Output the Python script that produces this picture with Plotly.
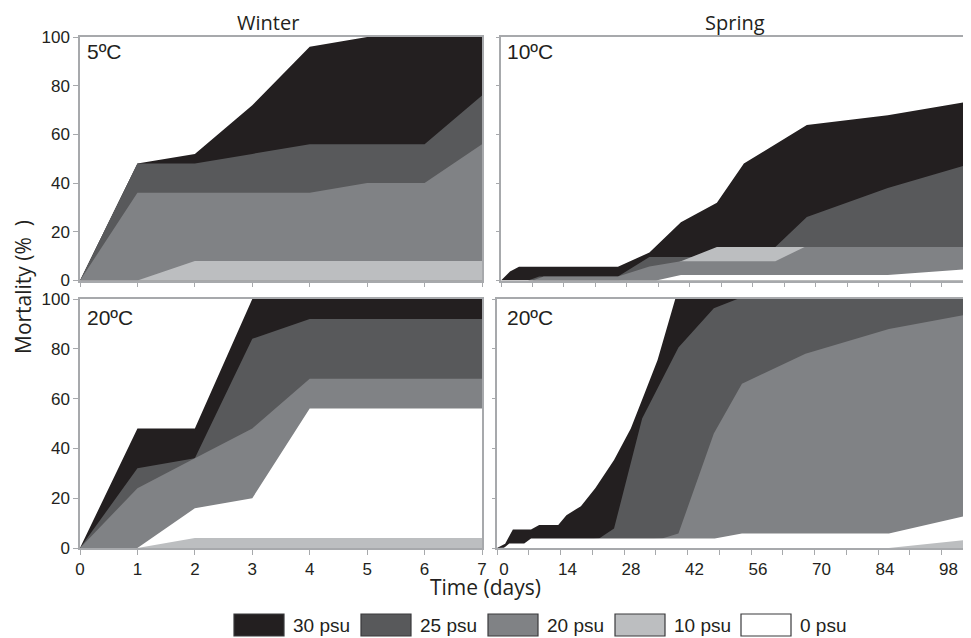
import plotly.graph_objects as go

# ---------------- data ----------------
series_names = ["30 psu", "25 psu", "20 psu", "10 psu", "0 psu"]
series_colors = ["#231f20", "#58595b", "#808285", "#bcbec0", "#ffffff"]

# Winter, 5 ºC (days 0-7)
winter_days = [0, 1, 2, 3, 4, 5, 6, 7]
w5_30 = [0, 48, 52, 72, 96, 100, 100, 100]
w5_25 = [0, 48, 48, 52, 56, 56, 56, 76]
w5_20 = [0, 36, 36, 36, 36, 40, 40, 56]
w5_10 = [0, 0, 8, 8, 8, 8, 8, 8]
w5_0 = [0, 0, 0, 0, 0, 0, 0, 0]

# Winter, 20 ºC
w20_30 = [0, 48, 48, 100, 100, 100, 100, 100]
w20_25 = [0, 32, 36, 84, 92, 92, 92, 92]
w20_20 = [0, 24, 36, 48, 68, 68, 68, 68]
w20_10 = [0, 0, 4, 4, 4, 4, 4, 4]
w20_0 = [0, 0, 16, 20, 56, 56, 56, 56]

# Spring, 10 ºC
s10_30_x = [0, 2, 4, 26, 33, 40, 48, 54, 68, 86, 105]
s10_30_y = [0, 3.7, 5.6, 5.6, 11.5, 23.9, 31.9, 48, 63.9, 67.9, 73.8]
s10_25_x = [0, 6, 8.5, 26, 33, 43, 54, 61, 68, 86, 105]
s10_25_y = [0, 0, 1.6, 1.6, 9.7, 9.7, 9.7, 13.8, 26.1, 38, 48.2]
s10_20_x = [0, 7, 9.5, 26, 33, 40, 61, 67.5, 105]
s10_20_y = [0, 0, 1.6, 1.6, 5.8, 7.9, 7.9, 13.8, 13.8]
s10_10_x = [0, 26, 33, 40, 48, 105]
s10_10_y = [0, 0, 2, 7.9, 13.8, 13.8]
s10_0_x = [0, 34.5, 40, 86, 105]
s10_0_y = [0, 0, 2.3, 2.3, 4.8]

# Spring, 20 ºC
s20_30_x = [0, 1.8, 3.5, 7.5, 9.3, 13.5, 15.3, 18.5, 21.7, 25.8, 29.5, 32.4, 35.4, 39.3, 105]
s20_30_y = [0, 1.7, 7.4, 7.4, 9.2, 9.2, 13.2, 16.8, 24.1, 35.3, 48, 61.4, 75.5, 100, 100]
s20_25_x = [0, 22.5, 25.8, 32, 40, 47.8, 53, 105]
s20_25_y = [0, 3.8, 7.8, 52, 80.5, 96.3, 100, 100]
s20_20_x = [0, 36.4, 40, 47.8, 54, 68, 86.4, 105]
s20_20_y = [0, 3.8, 5.8, 46, 66, 78, 88, 94.2]
s20_10_x = [0, 86.4, 105]
s20_10_y = [0, 0, 3.5]
s20_0_x = [0, 1.5, 2.7, 6, 7.5, 48, 54, 86.4, 105]
s20_0_y = [0, 0, 1.8, 1.8, 3.8, 3.8, 5.8, 5.8, 13.6]

winter_ticks = [0, 1, 2, 3, 4, 5, 6, 7]
spring_ticks = [0, 14, 28, 42, 56, 70, 84, 98]
spring_minor = [7, 21, 35, 49, 63, 77, 91]
y_ticks = [0, 20, 40, 60, 80, 100]

column_titles = ["Winter", "Spring"]
panel_labels = ["5ºC", "10ºC", "20ºC", "20ºC"]
x_title = "Time (days)"
y_title = "Mortality (%\u00a0\u00a0)"

# ---------------- figure ----------------
# the page body has an 8 px margin, so the figure is offset by 8 px
OFF = 8
W, H = 971 - OFF, 638 - OFF
def fx(p):
    return (p - OFF) / W
def fy(p):
    return 1 - (p - OFF) / H

color_of = dict(zip(series_names, series_colors))

# (axis suffix, [(name, x, y), ...] in drawing order back -> front)
panels = [
    ("", [("30 psu", winter_days, w5_30), ("25 psu", winter_days, w5_25),
          ("20 psu", winter_days, w5_20), ("0 psu", winter_days, w5_0),
          ("10 psu", winter_days, w5_10)]),
    ("2", [("30 psu", s10_30_x, s10_30_y), ("25 psu", s10_25_x, s10_25_y),
           ("10 psu", s10_10_x, s10_10_y), ("20 psu", s10_20_x, s10_20_y),
           ("0 psu", s10_0_x, s10_0_y)]),
    ("3", [("30 psu", winter_days, w20_30), ("25 psu", winter_days, w20_25),
           ("20 psu", winter_days, w20_20), ("0 psu", winter_days, w20_0),
           ("10 psu", winter_days, w20_10)]),
    ("4", [("30 psu", s20_30_x, s20_30_y), ("25 psu", s20_25_x, s20_25_y),
           ("20 psu", s20_20_x, s20_20_y), ("0 psu", s20_0_x, s20_0_y),
           ("10 psu", s20_10_x, s20_10_y)]),
]

fig = go.Figure()
for suffix, traces in panels:
    for name, xs, ys in traces:
        fig.add_trace(go.Scatter(
            x=xs, y=ys, name=name, mode="none", fill="tozeroy",
            fillcolor=color_of[name], showlegend=False, hoverinfo="skip",
            xaxis="x" + suffix, yaxis="y" + suffix))

AX = "#a7a9ac"
TICKFONT = dict(family="Liberation Sans, Arial", size=17, color="#231f20")


def axis(**kw):
    base = dict(showline=True, linecolor=AX, linewidth=1.5, ticks="outside",
                ticklen=5, tickwidth=1.2, tickcolor=AX, showgrid=False,
                zeroline=False, tickfont=TICKFONT, fixedrange=True,
                automargin=False)
    base.update(kw)
    return base

minor_spring = dict(tickvals=spring_minor, ticks="outside", ticklen=5,
                    tickcolor=AX, tickwidth=1.2, showgrid=False)

top_dom = [fy(280.5), fy(37)]
bot_dom = [fy(548), fy(299)]

fig.update_layout(
    width=W, height=H, margin=dict(l=0, r=0, t=0, b=0, pad=0), autosize=False,
    paper_bgcolor="white", plot_bgcolor="white", showlegend=False,
    xaxis=axis(domain=[fx(80), fx(482)], range=[0, 7], tickvals=winter_ticks,
               showticklabels=False, mirror=True, anchor="y"),
    yaxis=axis(domain=top_dom, range=[0, 100], tickvals=y_ticks,
               mirror=True, anchor="x"),
    xaxis2=axis(domain=[fx(501), 1.0], range=[0, 104.5], tickvals=spring_ticks,
                minor=minor_spring, showticklabels=False, mirror=True, anchor="y2"),
    yaxis2=axis(domain=top_dom, range=[0, 100], tickvals=y_ticks, ticklen=3,
                showticklabels=False, mirror=False, anchor="x2"),
    xaxis3=axis(domain=[fx(80), fx(482)], range=[0, 7], tickvals=winter_ticks,
                mirror=True, anchor="y3"),
    yaxis3=axis(domain=bot_dom, range=[0, 100], tickvals=y_ticks,
                mirror=True, anchor="x3"),
    xaxis4=axis(domain=[fx(497), 1.0], range=[0, 104.5], tickvals=spring_ticks,
                minor=minor_spring, mirror=True, anchor="y4", ticklabelshift=7),
    yaxis4=axis(domain=bot_dom, range=[0, 100], tickvals=y_ticks, ticklen=3,
                showticklabels=False, mirror=False, anchor="x4"),
)

HEADFONT = dict(family="Open Sans, Noto Sans", size=20, color="#231f20")
TITLEFONT = dict(family="Open Sans, Noto Sans", size=21, color="#231f20")
ann = []
ann.append(dict(text=column_titles[0], x=fx(268), y=1.0, xref="paper", yref="paper",
                showarrow=False, font=HEADFONT, xanchor="center", yanchor="top",
                borderpad=0))
ann.append(dict(text=column_titles[1], x=fx(735), y=1.0, xref="paper", yref="paper",
                showarrow=False, font=HEADFONT, xanchor="center", yanchor="top",
                borderpad=0))
ann.append(dict(text=x_title, x=fx(485), y=fy(587), xref="paper", yref="paper",
                showarrow=False, font=TITLEFONT, xanchor="center", yanchor="middle"))
ann.append(dict(text=y_title, x=0.0, y=fy(287), xref="paper", yref="paper",
                showarrow=False, font=TITLEFONT, textangle=-90, borderpad=0,
                xanchor="left", yanchor="middle"))

LABELFONT = dict(family="Liberation Sans, Arial", size=21, color="#231f20")
label_pos = [(85, 52), (505, 52), (85, 317), (505, 317)]
for lab, (lx, ly) in zip(panel_labels, label_pos):
    ann.append(dict(text=lab, x=fx(lx), y=fy(ly), xref="paper", yref="paper",
                    showarrow=False, font=LABELFONT, xanchor="left", yanchor="middle"))

# legend (drawn manually)
LEGFONT = dict(family="Liberation Sans, Arial", size=19, color="#231f20")
box_left = [234, 361, 488, 615, 741]
shapes = []
for name, col, bx in zip(series_names, series_colors, box_left):
    shapes.append(dict(type="rect", xref="paper", yref="paper",
                       x0=fx(bx), x1=fx(bx + 50), y0=fy(636), y1=fy(614),
                       fillcolor=col, line=dict(color="#3a3a3c", width=1.2)))
    ann.append(dict(text=name, x=fx(bx + 57), y=fy(625), xref="paper", yref="paper",
                    showarrow=False, font=LEGFONT, xanchor="left", yanchor="middle"))

fig.update_layout(annotations=ann, shapes=shapes)
fig.write_html("out.html")
